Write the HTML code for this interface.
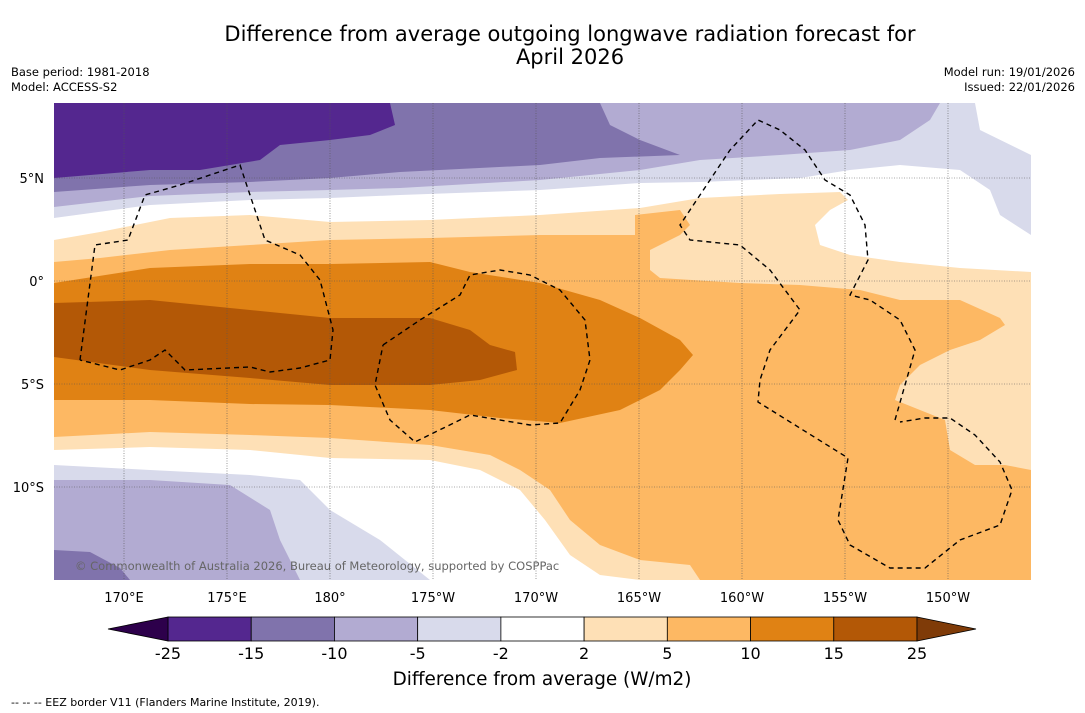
<!DOCTYPE html>
<html><head><meta charset="utf-8"><style>
body{margin:0;background:#fff;font-family:"DejaVu Sans","Liberation Sans",sans-serif;}
svg{display:block}
</style></head><body>
<svg id="chart" width="1085" height="713" viewBox="0 0 1085 713" font-family="DejaVu Sans, Liberation Sans, sans-serif">
<text x="570" y="41" font-size="21" text-anchor="middle">Difference from average outgoing longwave radiation forecast for</text>
<text x="570" y="64" font-size="21" text-anchor="middle">April 2026</text>
<text x="11" y="76" font-size="11.5">Base period: 1981-2018</text>
<text x="11" y="91" font-size="11.5">Model: ACCESS-S2</text>
<text x="1075" y="76" font-size="11.5" text-anchor="end">Model run: 19/01/2026</text>
<text x="1075" y="91" font-size="11.5" text-anchor="end">Issued: 22/01/2026</text>
<defs><clipPath id="mapclip"><rect x="54" y="103" width="977" height="477"/></clipPath></defs>
<g clip-path="url(#mapclip)">
<rect x="54" y="103" width="977" height="477" fill="#fff"/>
<polygon fill="#d8daeb" points="54,103 975,103 980,130 1031,155 1031,235 1000,215 990,190 960,170 900,165 850,170 800,178 700,182 640,183 540,190 400,195 330,198 250,200 150,205 54,218"/>
<polygon fill="#b2abd2" points="54,103 940,103 930,120 900,140 850,150 780,155 700,160 640,170 540,180 400,188 330,190 250,192 150,196 54,207"/>
<polygon fill="#8073ac" points="54,103 600,103 610,125 640,140 680,155 600,158 540,165 400,172 330,178 250,182 150,185 54,192"/>
<polygon fill="#54278f" points="54,103 390,103 395,125 370,135 330,140 280,145 260,160 200,170 150,170 54,178"/>
<polygon fill="#d8daeb" points="54,465 150,470 250,475 300,480 330,510 380,540 430,580 54,580"/>
<polygon fill="#b2abd2" points="54,480 150,480 230,485 270,510 280,540 300,580 54,580"/>
<polygon fill="#8073ac" points="54,550 90,552 120,568 130,580 54,580"/>
<polygon fill="#fee0b6" points="54,240 100,232 170,218 250,215 330,222 430,220 540,215 640,208 700,198 780,194 840,192 848,200 830,210 815,225 820,245 850,255 900,262 960,268 1031,272 1031,580 640,580 600,575 570,555 545,520 520,490 480,470 430,460 330,458 250,450 150,447 54,450"/>
<polygon fill="#fdb863" points="54,262 100,258 170,250 250,245 330,240 430,238 540,235 635,235 635,215 680,210 690,225 680,235 650,250 650,270 660,278 740,283 800,285 860,290 900,300 960,300 1000,318 1005,325 980,340 950,350 920,365 900,385 895,400 920,410 945,420 950,450 975,465 1005,465 1031,470 1031,580 700,580 690,565 640,560 600,545 570,520 550,490 520,470 490,455 430,445 330,438 250,435 150,432 54,437"/>
<polygon fill="#e08214" points="54,283 150,268 250,264 330,264 430,262 470,272 540,283 600,300 640,318 680,340 693,355 680,370 660,390 620,410 560,423 500,418 430,410 330,405 250,404 150,400 54,400"/>
<polygon fill="#b35806" points="54,303 150,300 250,310 330,318 430,318 470,330 490,345 515,352 517,370 480,380 430,385 330,385 250,378 150,370 54,357"/>
<g id="grid" stroke="#555" stroke-width="0.6" stroke-dasharray="1,1.5"></g>
<g fill="none" stroke="#000" stroke-width="1.4" stroke-dasharray="5,4">
<polyline points="80,360 95,245 128,240 145,195 180,185 240,165 255,210 265,240 300,255 320,280 333,330 330,360 300,368 270,372 250,367 185,370 165,350 150,360 120,370 80,360"/>
<polyline points="383,345 420,320 460,295 470,275 500,270 530,275 560,290 585,320 590,360 580,390 560,423 530,425 470,415 415,442 390,420 375,385 383,345"/>
<polyline points="895,420 915,350 900,320 870,300 850,295 868,260 865,225 850,195 825,180 805,150 780,130 758,120 730,150 700,195 680,225 690,240 740,245 770,270 800,310 770,350 760,380 758,402 848,458 838,520 850,545 890,568 925,568 960,540 1000,525 1012,490 1000,462 975,435 950,418 925,418 900,422"/>
</g>
<text x="75" y="570" font-size="11.5" fill="#666">© Commonwealth of Australia 2026, Bureau of Meteorology, supported by COSPPac</text>
</g>
<g id="axes" font-size="13"></g>
<g id="cbar"></g>
<text x="542" y="685" font-size="18.4" text-anchor="middle">Difference from average (W/m2)</text>
<text x="11" y="706" font-size="11">--  --  -- EEZ border V11 (Flanders Marine Institute, 2019).</text>
</svg>
<script>
const lonTicks=[170,175,180,-175,-170,-165,-160,-155,-150];
const lonLabels=["170°E","175°E","180°","175°W","170°W","165°W","160°W","155°W","150°W"];
const latTicks=[5,0,-5,-10];
const latLabels=["5°N","0°","5°S","10°S"];
const levels=[-25,-15,-10,-5,-2,2,5,10,15,25];
const colors=["#54278f","#8073ac","#b2abd2","#d8daeb","#ffffff","#fee0b6","#fdb863","#e08214","#b35806"];
const ns="http://www.w3.org/2000/svg";
function xLon(l){const e=l<0?360+l:l;return 124+(e-170)*20.6;}
function yLat(v){return 281-v*20.6;}
const grid=document.getElementById('grid'),axes=document.getElementById('axes'),cb=document.getElementById('cbar');
lonTicks.forEach((l,i)=>{
 const x=xLon(l);
 const ln=document.createElementNS(ns,'line');
 
 
 ln.setAttribute('x1',x);ln.setAttribute('x2',x);ln.setAttribute('y1',103);ln.setAttribute('y2',580);grid.appendChild(ln);
 const t=document.createElementNS(ns,'text');
 
 
 t.setAttribute('x',x);t.setAttribute('y',602);t.setAttribute('text-anchor','middle');t.textContent=lonLabels[i];axes.appendChild(t);
});
latTicks.forEach((v,i)=>{
 const y=yLat(v);
 const ln=document.createElementNS(ns,'line');
 
 
 ln.setAttribute('x1',54);ln.setAttribute('x2',1031);ln.setAttribute('y1',y);ln.setAttribute('y2',y);grid.appendChild(ln);
 const t=document.createElementNS(ns,'text');
 
 
 t.setAttribute('x',44);t.setAttribute('y',y+5);t.setAttribute('text-anchor','end');t.textContent=latLabels[i];axes.appendChild(t);
});
const cx0=168,cw=(917-168)/colors.length,cy=617,ch=24;
colors.forEach((c,i)=>{
 const r=document.createElementNS(ns,'rect');
 
 
 r.setAttribute('x',cx0+i*cw);r.setAttribute('y',cy);r.setAttribute('width',cw);r.setAttribute('height',ch);
 r.setAttribute('fill',c);r.setAttribute('stroke','#000');r.setAttribute('stroke-width','0.8');cb.appendChild(r);
});
const lt=document.createElementNS(ns,'polygon');


lt.setAttribute('points',`${cx0},${cy} 108,${cy+ch/2} ${cx0},${cy+ch}`);lt.setAttribute('fill','#2d004b');lt.setAttribute('stroke','#000');lt.setAttribute('stroke-width','0.8');cb.appendChild(lt);
const rt=document.createElementNS(ns,'polygon');


rt.setAttribute('points',`917,${cy} 976,${cy+ch/2} 917,${cy+ch}`);rt.setAttribute('fill','#7f3b08');rt.setAttribute('stroke','#000');rt.setAttribute('stroke-width','0.8');cb.appendChild(rt);
levels.forEach((v,i)=>{
 const t=document.createElementNS(ns,'text');
 
 
 t.setAttribute('x',cx0+i*cw);t.setAttribute('y',659);t.setAttribute('text-anchor','middle');t.setAttribute('font-size','16');t.textContent=v;cb.appendChild(t);
});
</script>
</body></html>
